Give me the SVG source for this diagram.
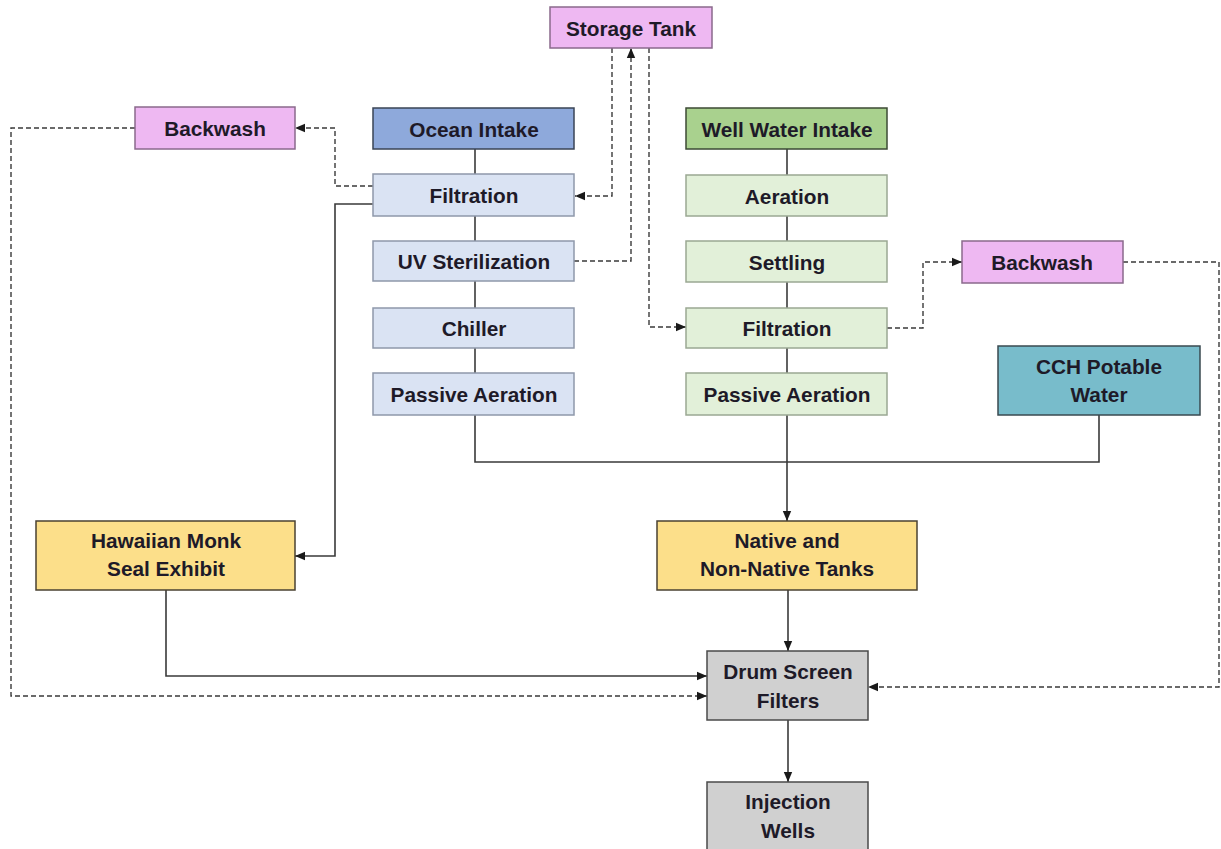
<svg xmlns="http://www.w3.org/2000/svg" width="1221" height="849" viewBox="0 0 1221 849">
<defs>
<style>
.box{stroke:#555;stroke-width:1.5}
.violet{fill:#EEB8F2;stroke:#8a6a8c}
.ocean{fill:#8EA9DB;stroke:#3a4456}
.oceanl{fill:#DAE3F3;stroke:#8e98aa}
.well{fill:#A9D18E;stroke:#3c4a34}
.welll{fill:#E2F0D9;stroke:#9aa893}
.teal{fill:#78BCCB;stroke:#3a4a50}
.gold{fill:#FCDF8A;stroke:#4a4232}
.gray{fill:#D0D0D0;stroke:#4a4a4a}
text{font-family:"Liberation Sans",Arial,sans-serif;font-weight:bold;font-size:20.8px;fill:#1e1a28;text-anchor:middle;dominant-baseline:central}
.solid{fill:none;stroke:#3a3a3a;stroke-width:1.6}
.dash{fill:none;stroke:#3a3a3a;stroke-width:1.4;stroke-dasharray:5 3}
</style>
<marker id="ah" markerUnits="userSpaceOnUse" markerWidth="10" markerHeight="10" viewBox="0 0 10 10" refX="10" refY="5" orient="auto">
<path d="M0,0.8 L10,5 L0,9.2 Z" fill="#1a1a1a"/>
</marker>
</defs>
<rect width="1221" height="849" fill="#ffffff"/>
<g id="connectors">
<line class="solid" x1="475" y1="149" x2="475" y2="174"/>
<line class="solid" x1="475" y1="216" x2="475" y2="241"/>
<line class="solid" x1="475" y1="281" x2="475" y2="308"/>
<line class="solid" x1="475" y1="348" x2="475" y2="373"/>
<line class="solid" x1="787" y1="149" x2="787" y2="175"/>
<line class="solid" x1="787" y1="216" x2="787" y2="241"/>
<line class="solid" x1="787" y1="282" x2="787" y2="308"/>
<line class="solid" x1="787" y1="348" x2="787" y2="373"/>
<polyline class="solid" points="475,415 475,462 1099,462 1099,415"/>
<line class="solid" x1="787" y1="415" x2="787" y2="521" marker-end="url(#ah)"/>
<line class="solid" x1="788" y1="590" x2="788" y2="651" marker-end="url(#ah)"/>
<line class="solid" x1="788" y1="720" x2="788" y2="782" marker-end="url(#ah)"/>
<polyline class="solid" points="373,204 335,204 335,556 295,556" marker-end="url(#ah)"/>
<polyline class="solid" points="166,590 166,676 707,676" marker-end="url(#ah)"/>
<polyline class="dash" points="373,186 335,186 335,128 295,128" marker-end="url(#ah)"/>
<polyline class="dash" points="135,128 11,128 11,696 707,696" marker-end="url(#ah)"/>
<polyline class="dash" points="612,48 612,196 575,196" marker-end="url(#ah)"/>
<polyline class="dash" points="574,261 631,261 631,48" marker-end="url(#ah)"/>
<polyline class="dash" points="649,48 649,327 686,327" marker-end="url(#ah)"/>
<polyline class="dash" points="887,328 923,328 923,262 962,262" marker-end="url(#ah)"/>
<polyline class="dash" points="1123,262 1219,262 1219,687 868,687" marker-end="url(#ah)"/>
</g>
<g id="storage-tank"><rect class="box violet" x="550" y="7" width="162" height="41"/><text x="631" y="28">Storage Tank</text></g>
<g id="backwash-left"><rect class="box violet" x="135" y="107" width="160" height="42"/><text x="215" y="128">Backwash</text></g>
<g id="ocean-intake"><rect class="box ocean" x="373" y="108" width="201" height="41"/><text x="474" y="129">Ocean Intake</text></g>
<g id="ocean-filtration"><rect class="box oceanl" x="373" y="174" width="201" height="42"/><text x="474" y="195">Filtration</text></g>
<g id="uv-sterilization"><rect class="box oceanl" x="373" y="241" width="201" height="40"/><text x="474" y="261">UV Sterilization</text></g>
<g id="chiller"><rect class="box oceanl" x="373" y="308" width="201" height="40"/><text x="474" y="328">Chiller</text></g>
<g id="ocean-passive-aeration"><rect class="box oceanl" x="373" y="373" width="201" height="42"/><text x="474" y="394">Passive Aeration</text></g>
<g id="well-intake"><rect class="box well" x="686" y="108" width="201" height="41"/><text x="787" y="129">Well Water Intake</text></g>
<g id="aeration"><rect class="box welll" x="686" y="175" width="201" height="41"/><text x="787" y="196">Aeration</text></g>
<g id="settling"><rect class="box welll" x="686" y="241" width="201" height="41"/><text x="787" y="262">Settling</text></g>
<g id="well-filtration"><rect class="box welll" x="686" y="308" width="201" height="40"/><text x="787" y="328">Filtration</text></g>
<g id="well-passive-aeration"><rect class="box welll" x="686" y="373" width="201" height="42"/><text x="787" y="394">Passive Aeration</text></g>
<g id="backwash-right"><rect class="box violet" x="962" y="241" width="161" height="42"/><text x="1042" y="262">Backwash</text></g>
<g id="cch-potable-water"><rect class="box teal" x="998" y="346" width="202" height="69"/><text x="1099" y="366">CCH Potable</text><text x="1099" y="394">Water</text></g>
<g id="monk-seal-exhibit"><rect class="box gold" x="36" y="521" width="259" height="69"/><text x="166" y="540">Hawaiian Monk</text><text x="166" y="568">Seal Exhibit</text></g>
<g id="native-tanks"><rect class="box gold" x="657" y="521" width="260" height="69"/><text x="787" y="540">Native and</text><text x="787" y="568">Non-Native Tanks</text></g>
<g id="drum-screen-filters"><rect class="box gray" x="707" y="651" width="161" height="69"/><text x="788" y="671">Drum Screen</text><text x="788" y="700">Filters</text></g>
<g id="injection-wells"><rect class="box gray" x="707" y="782" width="161" height="70"/><text x="788" y="801">Injection</text><text x="788" y="830">Wells</text></g>
</svg>
